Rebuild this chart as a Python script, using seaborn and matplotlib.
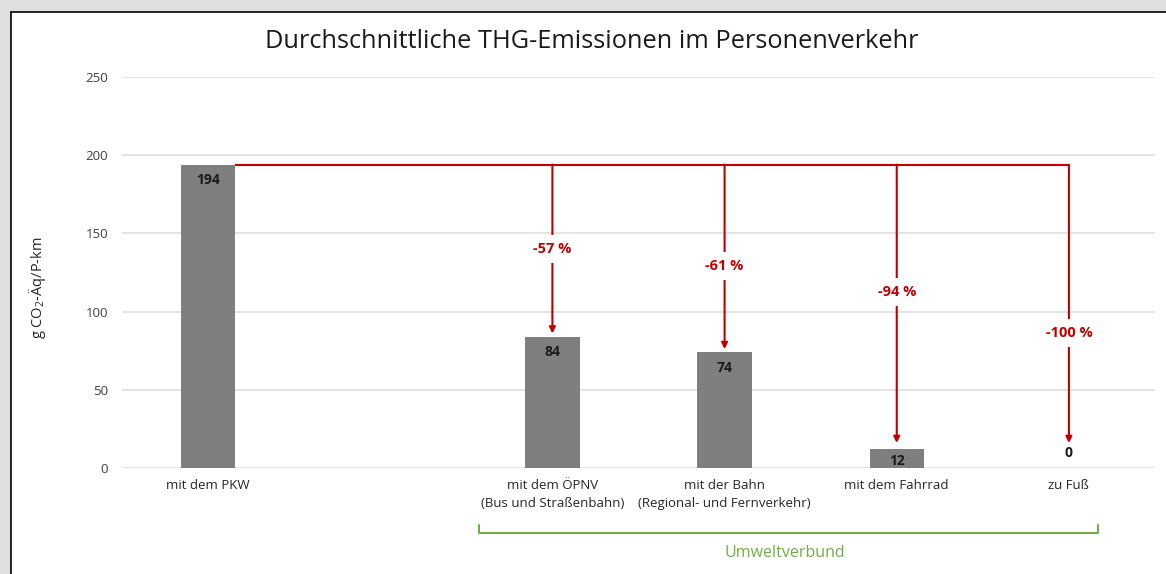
import matplotlib
matplotlib.use("Agg")
import matplotlib.pyplot as plt
import seaborn as sns
import pandas as pd
import numpy as np
from matplotlib.patches import Rectangle
from matplotlib.lines import Line2D

categories = ["mit dem PKW", " ", "mit dem ÖPNV\n(Bus und Straßenbahn)",
              "mit der Bahn\n(Regional- und Fernverkehr)", "mit dem Fahrrad", "zu Fuß"]
values = [194, np.nan, 84, 74, 12, 0]
value_labels = ["194", "", "84", "74", "12", "0"]
change_labels = ["", "", "-57 %", "-61 %", "-94 %", "-100 %"]
title = "Durchschnittliche THG-Emissionen im Personenverkehr"
ylabel = "g CO$_2$-Äq/P-km"
group_label = "Umweltverbund"
yticks = [0, 50, 100, 150, 200, 250]

# layout only
change_label_y = [None, None, 140, 129, 112.5, 86]

sns.set_theme(style="white")
FONT = "Open Sans"
plt.rcParams["font.family"] = [FONT, "DejaVu Sans"]
plt.rcParams["mathtext.fontset"] = "custom"
plt.rcParams["mathtext.rm"] = FONT

RED = "#c00000"
GREEN = "#70ad47"
GREY = "#7f7f7f"

fig = plt.figure(figsize=(11.66, 5.74), dpi=100)
fig.patch.set_facecolor("#e0e0e0")
W, H = 1166, 574
def fx(px): return px / W
def fy(py): return 1 - py / H

# white panel with black top/left border
fig.add_artist(Rectangle((fx(11), 0), 1.2, fy(12), transform=fig.transFigure,
                         facecolor="white", edgecolor="none", zorder=-10))
fig.add_artist(Line2D([fx(11), 1.0], [fy(12), fy(12)], transform=fig.transFigure, color="black", lw=1.2))
fig.add_artist(Line2D([fx(11), fx(11)], [0, fy(12)], transform=fig.transFigure, color="black", lw=1.2))

ax = fig.add_axes([fx(122), fy(468), fx(1155) - fx(122), fy(77) - fy(468)])
ax.set_facecolor("none")

df = pd.DataFrame({"cat": categories, "val": values})
sns.barplot(data=df.dropna(), x="cat", y="val", order=categories, color=GREY,
            saturation=1, width=0.315, ax=ax, zorder=3, linewidth=0)

ax.set_xlim(-0.5, 5.5)
ax.set_ylim(0, 250)
ax.set_yticks(yticks)
ax.set_yticklabels([str(t) for t in yticks], fontsize=9.5, color="#404040")
ax.yaxis.grid(True, color="#dedede", lw=1.2, zorder=0)
ax.set_axisbelow(True)
for s in ax.spines.values():
    s.set_visible(False)
ax.tick_params(axis="y", length=0, pad=10)
ax.tick_params(axis="x", length=0, pad=8)
ax.set_xticks(range(len(categories)))
ax.set_xticklabels(categories, fontsize=9.5, color="#262626", linespacing=1.45)
ax.set_xlabel("")
ax.set_ylabel("")

fig.text(fx(37), fy(288), ylabel, rotation=90, ha="center", va="center",
         fontsize=10.5, color="#262626")

# value labels
for i, (v, lab) in enumerate(zip(values, value_labels)):
    if not lab:
        continue
    if v >= 30:
        off = -11
    elif v > 0:
        off = -8.5
    else:
        off = 10.5
    ax.annotate(lab, (i, v), xytext=(0, off), textcoords="offset points",
                ha="center", va="center", fontsize=10, fontweight="bold", color="#1a1a1a", zorder=5)

# red reduction connectors
base = values[0]
bw = 0.315
last = len(categories) - 1
ax.plot([0 + bw / 2, last], [base, base], color=RED, lw=1.5, zorder=4, solid_capstyle="butt")
for i in range(2, len(categories)):
    v = values[i]
    end = max(v + 2, 16)
    ax.annotate("", xy=(i, end), xytext=(i, base),
                arrowprops=dict(arrowstyle="-|>", color=RED, lw=1.5, mutation_scale=9,
                                shrinkA=0, shrinkB=0), zorder=4)
    ax.text(i, change_label_y[i], change_labels[i], ha="center", va="center", fontsize=10.5,
            fontweight="bold", color=RED, zorder=6,
            bbox=dict(facecolor="white", edgecolor="none", pad=5))

# title
fig.text(fx(592), fy(42), title, ha="center", va="center", fontsize=18.3, color="#1a1a1a")

# green bracket
fig.add_artist(Line2D([fx(479), fx(479), fx(1098), fx(1098)],
                      [fy(525), fy(533), fy(533), fy(525)],
                      transform=fig.transFigure, color=GREEN, lw=1.5))
fig.text(fx(785), fy(553), group_label, ha="center", va="center", fontsize=11.5, color=GREEN)

fig.savefig("out.png", dpi=100, facecolor=fig.get_facecolor())
